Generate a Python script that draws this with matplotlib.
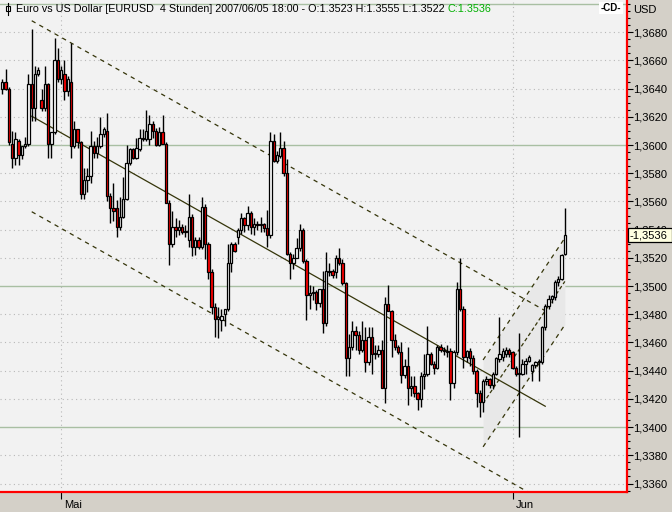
import numpy as np
import matplotlib.pyplot as plt
from matplotlib import transforms
from matplotlib.patches import Rectangle
from matplotlib.lines import Line2D
from matplotlib.ticker import MultipleLocator

plt.rcParams['font.family'] = ['Liberation Sans', 'DejaVu Sans']

# EURUSD, 4 hour candles, one entry per candle (26.04.2007 - 05.06.2007 18:00)
opens = [
    1.3640, 1.3645, 1.3640, 1.3601, 1.3591, 1.3603, 1.3593, 1.3599, 1.3601, 1.3643,
    1.3626, 1.3650, 1.3632, 1.3626, 1.3643, 1.3601, 1.3609, 1.3660, 1.3647, 1.3650,
    1.3638, 1.3645, 1.3599, 1.3611, 1.3602, 1.3565, 1.3575, 1.3578, 1.3599, 1.3594,
    1.3599, 1.3608, 1.3610, 1.3564, 1.3555, 1.3555, 1.3542, 1.3549, 1.3562, 1.3587,
    1.3597, 1.3591, 1.3597, 1.3605, 1.3604, 1.3604, 1.3615, 1.3610, 1.3600, 1.3609,
    1.3601, 1.3559, 1.3530, 1.3542, 1.3540, 1.3542, 1.3538, 1.3533, 1.3549, 1.3528,
    1.3533, 1.3528, 1.3556, 1.3530, 1.3510, 1.3485, 1.3477, 1.3476, 1.3480, 1.3484,
    1.3516, 1.3530, 1.3535, 1.3540, 1.3548, 1.3543, 1.3552, 1.3542, 1.3544, 1.3543,
    1.3544, 1.3541, 1.3536, 1.3603, 1.3589, 1.3592, 1.3598, 1.3580, 1.3523, 1.3516,
    1.3520, 1.3527, 1.3540, 1.3518, 1.3494, 1.3495, 1.3496, 1.3488, 1.3498, 1.3474,
    1.3510, 1.3511, 1.3510, 1.3520, 1.3516, 1.3502, 1.3449, 1.3457, 1.3468, 1.3465,
    1.3455, 1.3462, 1.3446, 1.3464, 1.3452, 1.3452, 1.3455, 1.3428, 1.3487, 1.3482,
    1.3462, 1.3457, 1.3453, 1.3437, 1.3443, 1.3428, 1.3429, 1.3424, 1.3420, 1.3436,
    1.3438, 1.3452, 1.3445, 1.3442, 1.3457, 1.3455, 1.3453, 1.3454, 1.3431, 1.3453,
    1.3498, 1.3484, 1.3450, 1.3454, 1.3449, 1.3440, 1.3424, 1.3418, 1.3433, 1.3434,
    1.3430, 1.3438, 1.3448, 1.3450, 1.3452, 1.3455, 1.3453, 1.3442, 1.3438, 1.3438,
    1.3445, 1.3447, 1.3440, 1.3444, 1.3446, 1.3446, 1.3471, 1.3486, 1.3491, 1.3492,
    1.3503, 1.3505, 1.3523,
]
highs = [
    1.3647, 1.3654, 1.3641, 1.3610, 1.3609, 1.3604, 1.3599, 1.3606, 1.3650, 1.3682,
    1.3656, 1.3655, 1.3640, 1.3656, 1.3644, 1.3609, 1.3676, 1.3669, 1.3656, 1.3660,
    1.3649, 1.3672, 1.3617, 1.3611, 1.3603, 1.3584, 1.3584, 1.3610, 1.3603, 1.3606,
    1.3620, 1.3613, 1.3623, 1.3566, 1.3573, 1.3561, 1.3563, 1.3577, 1.3600, 1.3598,
    1.3598, 1.3605, 1.3611, 1.3611, 1.3625, 1.3621, 1.3617, 1.3612, 1.3613, 1.3621,
    1.3602, 1.3561, 1.3553, 1.3548, 1.3547, 1.3544, 1.3543, 1.3565, 1.3551, 1.3535,
    1.3535, 1.3563, 1.3558, 1.3531, 1.3512, 1.3488, 1.3485, 1.3484, 1.3484, 1.3530,
    1.3531, 1.3531, 1.3541, 1.3552, 1.3549, 1.3557, 1.3553, 1.3548, 1.3546, 1.3549,
    1.3545, 1.3554, 1.3609, 1.3608, 1.3596, 1.3609, 1.3603, 1.3590, 1.3524, 1.3523,
    1.3534, 1.3544, 1.3541, 1.3519, 1.3501, 1.3500, 1.3497, 1.3498, 1.3511, 1.3524,
    1.3516, 1.3512, 1.3522, 1.3527, 1.3519, 1.3503, 1.3466, 1.3475, 1.3472, 1.3468,
    1.3475, 1.3471, 1.3471, 1.3471, 1.3458, 1.3458, 1.3462, 1.3492, 1.3501, 1.3483,
    1.3466, 1.3458, 1.3460, 1.3448, 1.3457, 1.3436, 1.3436, 1.3425, 1.3439, 1.3452,
    1.3472, 1.3453, 1.3447, 1.3458, 1.3459, 1.3457, 1.3458, 1.3456, 1.3455, 1.3503,
    1.3520, 1.3486, 1.3455, 1.3456, 1.3451, 1.3441, 1.3426, 1.3434, 1.3436, 1.3435,
    1.3439, 1.3450, 1.3478, 1.3456, 1.3457, 1.3456, 1.3454, 1.3443, 1.3467, 1.3448,
    1.3449, 1.3451, 1.3445, 1.3447, 1.3448, 1.3472, 1.3487, 1.3494, 1.3494, 1.3504,
    1.3507, 1.3523, 1.3555,
]
lows = [
    1.3636, 1.3639, 1.3600, 1.3584, 1.3586, 1.3586, 1.3590, 1.3598, 1.3599, 1.3617,
    1.3617, 1.3649, 1.3624, 1.3624, 1.3591, 1.3591, 1.3608, 1.3645, 1.3643, 1.3632,
    1.3635, 1.3591, 1.3598, 1.3598, 1.3562, 1.3562, 1.3567, 1.3573, 1.3591, 1.3591,
    1.3598, 1.3606, 1.3560, 1.3545, 1.3546, 1.3535, 1.3540, 1.3548, 1.3561, 1.3586,
    1.3590, 1.3590, 1.3596, 1.3603, 1.3603, 1.3600, 1.3605, 1.3599, 1.3599, 1.3601,
    1.3559, 1.3515, 1.3528, 1.3535, 1.3536, 1.3537, 1.3535, 1.3528, 1.3521, 1.3522,
    1.3526, 1.3526, 1.3519, 1.3505, 1.3480, 1.3464, 1.3463, 1.3468, 1.3472, 1.3482,
    1.3510, 1.3524, 1.3530, 1.3537, 1.3538, 1.3540, 1.3537, 1.3536, 1.3540, 1.3538,
    1.3538, 1.3528, 1.3534, 1.3588, 1.3587, 1.3591, 1.3578, 1.3522, 1.3505, 1.3512,
    1.3520, 1.3525, 1.3516, 1.3476, 1.3484, 1.3490, 1.3483, 1.3485, 1.3467, 1.3472,
    1.3507, 1.3506, 1.3506, 1.3515, 1.3501, 1.3436, 1.3436, 1.3455, 1.3455, 1.3452,
    1.3453, 1.3439, 1.3444, 1.3438, 1.3448, 1.3450, 1.3428, 1.3417, 1.3482, 1.3450,
    1.3455, 1.3452, 1.3431, 1.3435, 1.3416, 1.3422, 1.3421, 1.3412, 1.3414, 1.3427,
    1.3436, 1.3444, 1.3438, 1.3441, 1.3453, 1.3451, 1.3450, 1.3419, 1.3428, 1.3451,
    1.3482, 1.3442, 1.3446, 1.3443, 1.3438, 1.3414, 1.3407, 1.3411, 1.3430, 1.3428,
    1.3427, 1.3437, 1.3446, 1.3447, 1.3450, 1.3450, 1.3441, 1.3436, 1.3393, 1.3437,
    1.3438, 1.3446, 1.3433, 1.3442, 1.3433, 1.3445, 1.3469, 1.3484, 1.3488, 1.3490,
    1.3500, 1.3504, 1.3522,
]
closes = [
    1.3645, 1.3640, 1.3602, 1.3591, 1.3604, 1.3593, 1.3599, 1.3601, 1.3643, 1.3626,
    1.3650, 1.3653, 1.3626, 1.3643, 1.3601, 1.3609, 1.3660, 1.3647, 1.3653, 1.3638,
    1.3647, 1.3599, 1.3611, 1.3602, 1.3565, 1.3575, 1.3578, 1.3599, 1.3594, 1.3599,
    1.3608, 1.3611, 1.3564, 1.3555, 1.3553, 1.3542, 1.3549, 1.3562, 1.3587, 1.3597,
    1.3591, 1.3598, 1.3605, 1.3604, 1.3610, 1.3615, 1.3610, 1.3600, 1.3609, 1.3601,
    1.3559, 1.3530, 1.3542, 1.3540, 1.3542, 1.3538, 1.3539, 1.3549, 1.3528, 1.3533,
    1.3528, 1.3556, 1.3530, 1.3510, 1.3485, 1.3477, 1.3478, 1.3479, 1.3484, 1.3516,
    1.3530, 1.3525, 1.3540, 1.3548, 1.3543, 1.3552, 1.3542, 1.3544, 1.3543, 1.3544,
    1.3541, 1.3536, 1.3603, 1.3589, 1.3593, 1.3598, 1.3580, 1.3523, 1.3516, 1.3520,
    1.3527, 1.3540, 1.3518, 1.3494, 1.3495, 1.3496, 1.3488, 1.3498, 1.3474, 1.3511,
    1.3511, 1.3508, 1.3520, 1.3516, 1.3502, 1.3449, 1.3457, 1.3468, 1.3465, 1.3455,
    1.3462, 1.3446, 1.3464, 1.3452, 1.3452, 1.3455, 1.3428, 1.3487, 1.3482, 1.3462,
    1.3457, 1.3453, 1.3437, 1.3443, 1.3428, 1.3429, 1.3424, 1.3420, 1.3436, 1.3438,
    1.3452, 1.3445, 1.3442, 1.3457, 1.3455, 1.3454, 1.3454, 1.3431, 1.3453, 1.3498,
    1.3484, 1.3450, 1.3454, 1.3449, 1.3440, 1.3424, 1.3418, 1.3433, 1.3434, 1.3430,
    1.3438, 1.3449, 1.3452, 1.3454, 1.3455, 1.3452, 1.3442, 1.3438, 1.3438, 1.3445,
    1.3447, 1.3450, 1.3444, 1.3446, 1.3447, 1.3471, 1.3486, 1.3491, 1.3493, 1.3503,
    1.3505, 1.3522, 1.3536,
]

month_pos = [18, 156]
month_labels = ['Mai', 'Jun']
price_ticks = [1.3360, 1.3380, 1.3400, 1.3420, 1.3440, 1.3460, 1.3480, 1.3500, 1.3520,
               1.3540, 1.3560, 1.3580, 1.3600, 1.3620, 1.3640, 1.3660, 1.3680, 1.3700]
last_price = 1.3536

# regression channel: start/end candle and centre line price
reg_x = [9, 166]
reg_mid = [1.36204, 1.34148]
reg_half = 0.00677

# short rising channel at the end
up_x = [147, 172]
up_mid = [1.34168, 1.35033]
up_half = 0.00308

W, H = 672, 512
fig = plt.figure(figsize=(W / 100, H / 100), dpi=100)
fig.patch.set_facecolor('#D4D0C8')
ax = fig.add_axes([0, 20 / H, 627 / W, 492 / H])
ax.set_facecolor('#F2F2F2')
ax.set_xlim(-0.7, 191.0)
ax.set_ylim(1.33540, 1.37028)

# grid
for v in price_ticks:
    if round(v * 10000) % 100 == 0:
        ax.axhline(v, color='#A9BFA3', lw=1.0, zorder=1)
    else:
        ax.axhline(v, color='#B8B8B8', lw=0.8, ls=(0, (1, 3)), zorder=1)
for m in month_pos:
    ax.axvline(m, color='#B8B8B8', lw=0.8, ls=(0, (1, 3)), zorder=1)

line_col = '#35350A'

# rising channel (light fill + dashed lines)
ux = np.array(up_x, dtype=float)
um = np.array(up_mid)
ax.fill_between(ux, um - up_half, um + up_half, color='#E8E8E8', lw=0, zorder=1.5)
ax.plot(ux, um + up_half, color=line_col, lw=0.9, ls=(0, (3.5, 3.5)), zorder=2)
ax.plot(ux, um - up_half, color=line_col, lw=0.9, ls=(0, (3.5, 3.5)), zorder=2)
ax.plot(ux, um, color=line_col, lw=0.9, ls=(0, (3, 2)), zorder=2)

# regression channel
rx = np.array(reg_x, dtype=float)
rm = np.array(reg_mid)
ax.plot(rx, rm, color=line_col, lw=0.9, zorder=2)
ax.plot(rx, rm + reg_half, color=line_col, lw=0.9, ls=(0, (3.5, 3.5)), zorder=2)
ax.plot(rx, rm - reg_half, color=line_col, lw=0.9, ls=(0, (3.5, 3.5)), zorder=2)

# candles
o = np.array(opens)
h = np.array(highs)
l = np.array(lows)
c = np.array(closes)
idx = np.arange(len(c))
ax.vlines(idx, l, h, color='black', lw=1.0, zorder=3)
bottom = np.minimum(o, c)
height = np.maximum(np.abs(c - o), 0.00004)
colors = np.where(c >= o, 'white', '#FF0000')
ax.bar(idx, height, bottom=bottom, width=0.72, color=colors,
       edgecolor='black', linewidth=0.9, zorder=4)

# axes styling
for s in ['top', 'left']:
    ax.spines[s].set_visible(False)
for s in ['right', 'bottom']:
    ax.spines[s].set_color('#FF0000')
    ax.spines[s].set_linewidth(1.6)

ax.yaxis.tick_right()
ax.set_yticks(price_ticks[:-1])
ax.set_yticklabels([f'{v:.4f}'.replace('.', ',') for v in price_ticks[:-1]])
ax.yaxis.set_minor_locator(MultipleLocator(0.0005))
ax.tick_params(axis='y', which='major', direction='out', length=4, width=0.8,
               pad=0.5, labelsize=8, colors='black')
ax.tick_params(axis='y', which='minor', direction='out', length=2.5, width=0.8,
               colors='black')

ax.set_xticks(month_pos)
ax.set_xticklabels(month_labels)
ax.tick_params(axis='x', direction='out', length=5, width=0.8, pad=1,
               labelsize=8, colors='black')
shift = transforms.ScaledTranslation(2 / 72, 0, fig.dpi_scale_trans)
for lab in ax.get_xticklabels():
    lab.set_ha('left')
    lab.set_transform(lab.get_transform() + shift)

# last price box on the price scale
box_y = ax.transData.transform((0, last_price))[1]
fig.add_artist(Rectangle((628 / W, (box_y - 7) / H), 44 / W, 14 / H,
                         transform=fig.transFigure, fc='#FFFFE1', ec='black',
                         lw=0.9, zorder=10))
fig.text(629 / W, box_y / H, '-1,3536', fontsize=8, va='center', ha='left',
         zorder=11)

# header
t = fig.text(16 / W, 1 - 9 / H,
             'Euro vs US Dollar [EURUSD  4 Stunden] 2007/06/05 18:00 - O:1.3523 H:1.3555 L:1.3522 ',
             fontsize=7.75, va='center', ha='left')
ax.annotate('C:1.3536', xy=(1, 0.5), xycoords=t, va='center', ha='left',
            fontsize=7.75, color='#00B000')
fig.text(633 / W, 1 - 10 / H, 'USD', fontsize=8, va='center', ha='left')
fig.text(611 / W, 1 - 8 / H, '-CD-', fontsize=7, va='center', ha='center',
         fontweight='bold',
         bbox=dict(boxstyle='square,pad=0.15', fc='white', ec='none'))

# small candle icon
fig.add_artist(Line2D([7.5 / W, 7.5 / W], [1 - 3 / H, 1 - 15 / H],
                      transform=fig.transFigure, color='black', lw=0.8))
fig.add_artist(Rectangle((5.5 / W, 1 - 11 / H), 4 / W, 5 / H,
                         transform=fig.transFigure, fc='white', ec='black', lw=0.8))

fig.savefig('out.png', dpi=100, facecolor=fig.get_facecolor())
